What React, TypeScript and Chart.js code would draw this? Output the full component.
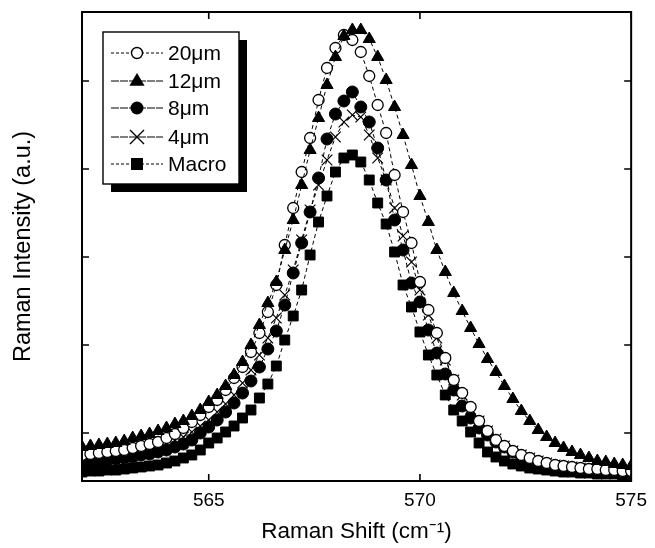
import React, { useEffect, useRef } from "react";
import { Chart, registerables } from "chart.js";

Chart.register(...registerables);

const FONT = '"Liberation Sans", Arial, Helvetica, sans-serif';

// Raman shift (cm^-1) sampling positions
const ramanShift = [
  562.0, 562.2, 562.4, 562.6, 562.8, 563.0, 563.2, 563.4, 563.6, 563.8,
  564.0, 564.2, 564.4, 564.6, 564.8, 565.0, 565.2, 565.4, 565.6, 565.8,
  566.0, 566.2, 566.4, 566.6, 566.8, 567.0, 567.2, 567.4, 567.6, 567.8,
  568.0, 568.2, 568.4, 568.6, 568.8, 569.0, 569.2, 569.4, 569.6, 569.8,
  570.0, 570.2, 570.4, 570.6, 570.8, 571.0, 571.2, 571.4, 571.6, 571.8,
  572.0, 572.2, 572.4, 572.6, 572.8, 573.0, 573.2, 573.4, 573.6, 573.8,
  574.0, 574.2, 574.4, 574.6, 574.8, 575.0,
];

const int20um = [
  260, 270, 280, 290, 300, 310, 330, 350, 370, 390,
  430, 470, 530, 590, 660, 740, 810, 910, 1030, 1140,
  1290, 1480, 1690, 1960, 2360, 2730, 3090, 3430, 3810, 4130,
  4330, 4460, 4410, 4290, 4050, 3760, 3480, 3060, 2690, 2380,
  1990, 1710, 1480, 1230, 1010, 880, 740, 600, 500, 410,
  350, 300, 260, 230, 200, 180, 160, 150, 140, 130,
  120, 120, 110, 110, 100, 100,
];

const int12um = [
  340, 350, 360, 370, 380, 400, 430, 450, 470, 500,
  530, 570, 600, 650, 710, 790, 860, 950, 1060, 1190,
  1360, 1560, 1780, 1990, 2310, 2610, 2960, 3310, 3630, 3960,
  4240, 4450, 4510, 4510, 4420, 4240, 4010, 3740, 3460, 3160,
  2850, 2590, 2310, 2090, 1880, 1700, 1530, 1370, 1220, 1090,
  950, 820, 700, 600, 510, 440, 380, 330, 290, 260,
  230, 200, 190, 170, 160, 150,
];

const int8um = [
  190, 200, 200, 210, 220, 230, 240, 260, 270, 290,
  310, 340, 370, 410, 480, 540, 610, 690, 780, 880,
  1000, 1140, 1320, 1500, 1760, 2080, 2380, 2690, 3030, 3420,
  3670, 3800, 3890, 3740, 3590, 3330, 3010, 2610, 2310, 1980,
  1790, 1510, 1280, 1070, 910, 750, 630, 530, 460, 390,
  340, 290, 250, 220, 190, 170, 150, 140, 130, 120,
  110, 110, 100, 100, 90, 90,
];

const int4um = [
  230, 230, 240, 250, 260, 270, 280, 300, 320, 340,
  370, 400, 440, 490, 550, 610, 690, 770, 860, 980,
  1110, 1260, 1430, 1630, 1860, 2110, 2410, 2710, 2960, 3210,
  3440, 3590, 3660, 3640, 3460, 3230, 3010, 2730, 2450, 2190,
  1910, 1660, 1430, 1210, 1010, 860, 720, 600, 500, 420,
  350, 300, 260, 230, 200, 180, 160, 150, 140, 130,
  120, 120, 110, 110, 100, 100,
];

const intMacro = [
  90, 100, 100, 110, 110, 120, 130, 140, 150, 160,
  180, 200, 230, 260, 310, 380, 430, 490, 550, 630,
  710, 830, 970, 1150, 1410, 1650, 1910, 2260, 2590, 2850,
  3090, 3230, 3260, 3190, 3010, 2780, 2570, 2290, 1960, 1740,
  1490, 1260, 1060, 860, 710, 600, 490, 380, 290, 240,
  200, 170, 150, 130, 120, 110, 100, 90, 90, 80,
  80, 70, 70, 70, 60, 60,
];

const seriesLabels = ["20\u03bcm", "12\u03bcm", "8\u03bcm", "4\u03bcm", "Macro"];
const xTicks = [565, 570, 575];
const yTicks = [480, 1360, 2240, 3120, 4000];
const xMin = 562;
const xMax = 575;
const yMin = 0;
const yMax = 4690;

type MarkerKind = "openCircle" | "triangle" | "circle" | "cross" | "square";

const markerDefs: { kind: MarkerKind; pointStyle: string; radius: number; fill: string; bw: number }[] = [
  { kind: "openCircle", pointStyle: "circle", radius: 5.5, fill: "#ffffff", bw: 1.3 },
  { kind: "triangle", pointStyle: "triangle", radius: 7, fill: "#000000", bw: 1 },
  { kind: "circle", pointStyle: "circle", radius: 6, fill: "#000000", bw: 1 },
  { kind: "cross", pointStyle: "crossRot", radius: 7.5, fill: "#000000", bw: 1.2 },
  { kind: "square", pointStyle: "rect", radius: 7, fill: "#000000", bw: 1 },
];

function drawMarker(ctx: CanvasRenderingContext2D, kind: MarkerKind, x: number, y: number) {
  ctx.save();
  ctx.strokeStyle = "#000";
  ctx.fillStyle = "#000";
  ctx.lineWidth = 1.4;
  ctx.setLineDash([]);
  ctx.beginPath();
  if (kind === "openCircle") {
    ctx.arc(x, y, 5.5, 0, Math.PI * 2);
    ctx.fillStyle = "#fff";
    ctx.fill();
    ctx.stroke();
  } else if (kind === "circle") {
    ctx.arc(x, y, 6.5, 0, Math.PI * 2);
    ctx.fill();
  } else if (kind === "triangle") {
    const r = 8;
    ctx.moveTo(x, y - r);
    ctx.lineTo(x + r * 0.95, y + r * 0.6);
    ctx.lineTo(x - r * 0.95, y + r * 0.6);
    ctx.closePath();
    ctx.fill();
  } else if (kind === "cross") {
    const s = 7;
    ctx.moveTo(x - s, y - s);
    ctx.lineTo(x + s, y + s);
    ctx.moveTo(x + s, y - s);
    ctx.lineTo(x - s, y + s);
    ctx.stroke();
  } else {
    ctx.rect(x - 6, y - 6, 12, 12);
    ctx.fill();
  }
  ctx.restore();
}

const framePlugin = {
  id: "frameTicksLegend",
  afterDraw(chart: any) {
    const { ctx, chartArea } = chart;
    const xs = chart.scales.x;
    const ys = chart.scales.y;
    const { left, right, top, bottom } = chartArea;
    ctx.save();
    ctx.strokeStyle = "#000";
    ctx.lineWidth = 2;
    ctx.setLineDash([]);
    ctx.strokeRect(left, top, right - left, bottom - top);
    const tl = 7;
    ctx.lineWidth = 1.6;
    ctx.beginPath();
    xTicks.forEach((v) => {
      const px = xs.getPixelForValue(v);
      ctx.moveTo(px, bottom);
      ctx.lineTo(px, bottom - tl);
      ctx.moveTo(px, top);
      ctx.lineTo(px, top + tl);
    });
    yTicks.forEach((v) => {
      const py = ys.getPixelForValue(v);
      ctx.moveTo(left, py);
      ctx.lineTo(left + tl, py);
      ctx.moveTo(right, py);
      ctx.lineTo(right - tl, py);
    });
    ctx.stroke();

    // legend box with drop shadow
    const bx = left + 21;
    const by = top + 20;
    const bw = 136;
    const bh = 152;
    ctx.fillStyle = "#000";
    ctx.fillRect(bx + 8, by + 8, bw, bh);
    ctx.fillStyle = "#fff";
    ctx.fillRect(bx, by, bw, bh);
    ctx.lineWidth = 1.4;
    ctx.strokeRect(bx, by, bw, bh);

    const rowYs = [21, 49, 76, 105, 132];
    ctx.font = `21px ${FONT}`;
    ctx.textBaseline = "middle";
    ctx.textAlign = "left";
    seriesLabels.forEach((label, i) => {
      const y = by + rowYs[i];
      ctx.save();
      ctx.lineWidth = 1;
      ctx.strokeStyle = "#000";
      ctx.setLineDash(i === 0 || i === 4 ? [3, 2] : [8, 1]);
      ctx.beginPath();
      ctx.moveTo(bx + 8, y);
      ctx.lineTo(bx + 60, y);
      ctx.stroke();
      ctx.restore();
      drawMarker(ctx, markerDefs[i].kind, bx + 34, y);
      ctx.fillStyle = "#000";
      ctx.fillText(label, bx + 65, y + 1);
    });
    ctx.restore();
  },
};

export default function App() {
  const canvasRef = useRef<HTMLCanvasElement | null>(null);

  useEffect(() => {
    document.body.style.margin = "0";
    const canvas = canvasRef.current;
    if (!canvas) return;
    const all = [int20um, int12um, int8um, int4um, intMacro];
    const datasets = all.map((vals, i) => ({
      label: seriesLabels[i],
      data: ramanShift.map((x, k) => ({ x, y: vals[k] })),
      showLine: true,
      borderColor: "#000",
      borderWidth: 1,
      borderDash: [4, 3],
      fill: false,
      tension: 0,
      pointStyle: markerDefs[i].pointStyle,
      pointRadius: markerDefs[i].radius,
      pointBackgroundColor: markerDefs[i].fill,
      pointBorderColor: "#000",
      pointBorderWidth: markerDefs[i].bw,
      order: [2, 1, 3, 4, 5][i],
    }));

    const chart = new Chart(canvas, {
      type: "line",
      data: { datasets },
      plugins: [framePlugin],
      options: {
        animation: false,
        responsive: false,
        maintainAspectRatio: false,
        devicePixelRatio: 1,
        layout: { padding: { top: 12, right: 14, left: 0, bottom: 0 } },
        plugins: { legend: { display: false }, tooltip: { enabled: false } },
        scales: {
          x: {
            type: "linear",
            min: xMin,
            max: xMax,
            afterBuildTicks: (s: any) => {
              s.ticks = xTicks.map((v) => ({ value: v }));
            },
            afterFit: (s: any) => {
              s.height = 67;
            },
            grid: { display: false, drawTicks: false },
            border: { display: false },
            ticks: {
              autoSkip: false,
              maxRotation: 0,
              padding: 8,
              color: "#000",
              font: { family: FONT, size: 19 },
              callback: (v: any) => String(v),
            },
            title: {
              display: true,
              text: "Raman Shift (cm\u207b\u00b9)",
              color: "#000",
              font: { family: FONT, size: 22.5 },
              padding: { top: 0, bottom: 3 },
            },
          },
          y: {
            type: "linear",
            min: yMin,
            max: yMax,
            afterBuildTicks: (s: any) => {
              s.ticks = yTicks.map((v) => ({ value: v }));
            },
            afterFit: (s: any) => {
              s.width = 82;
            },
            grid: { display: false, drawTicks: false },
            border: { display: false },
            ticks: { display: false },
            title: {
              display: true,
              text: "Raman Intensity (a.u.)",
              color: "#000",
              font: { family: FONT, size: 23.5 },
              padding: { top: 9, bottom: 0 },
            },
          },
        },
      } as any,
    });
    return () => chart.destroy();
  }, []);

  return (
    <div style={{ position: "absolute", left: 0, top: 0, width: 655, height: 548, background: "#fff" }}>
      <canvas ref={canvasRef} width={655} height={548} style={{ width: 655, height: 548 }} />
    </div>
  );
}
